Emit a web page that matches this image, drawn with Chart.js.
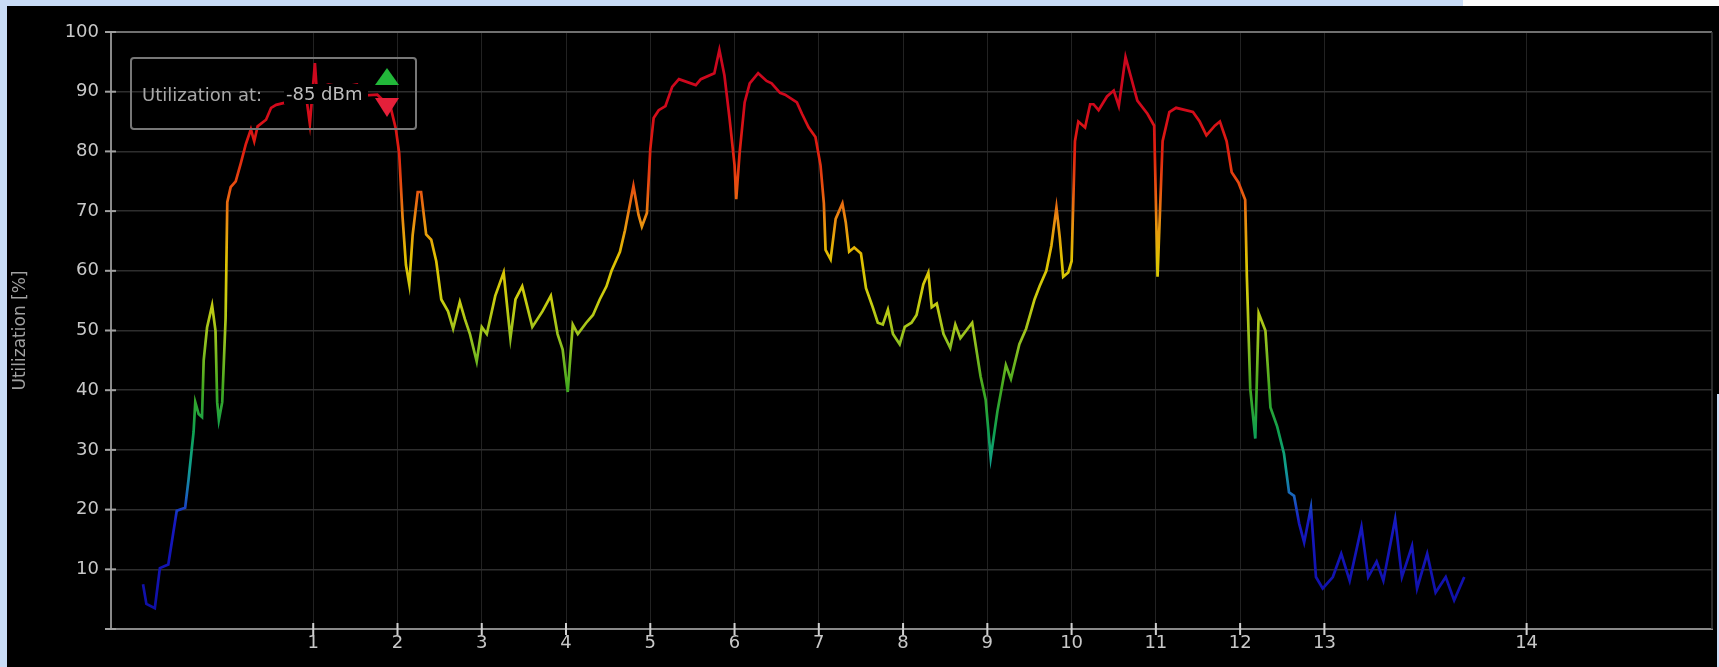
<!DOCTYPE html>
<html>
<head>
<meta charset="utf-8">
<title>Channel utilization</title>
<script src="https://cdn.jsdelivr.net/npm/chart.js@4.4.1/dist/chart.umd.min.js"></script>
<style>
  html, body { margin: 0; padding: 0; width: 1719px; height: 667px; overflow: hidden; background: #c9dcf6; }
  #topwhite { position: absolute; left: 1463px; top: 0; width: 256px; height: 6px; background: #fbfbfb; }
  #panel { position: absolute; left: 7px; top: 6px; width: 1712px; height: 661px; background: #000; }
  #edge { position: absolute; left: 1717px; top: 394px; width: 2px; height: 273px; background: #c9dcf6; }
  #legendBox { position: absolute; left: 130px; top: 57px; width: 283px; height: 69px;
               border: 2px solid #777; border-radius: 4px; pointer-events: none; }
  .ltext { position: absolute; font-family: "DejaVu Sans", sans-serif; font-size: 18px;
           line-height: 20px; height: 20px; white-space: nowrap; }
  #lblAt { left: 142px; top: 85px; color: #a8a8a8; }
  #lblDbm { left: 284px; top: 84px; width: 82px; padding-left: 2px; background: #000; color: #bdbdbd; }
  #up { position: absolute; left: 375px; top: 68px; width: 0; height: 0;
        border-left: 12px solid transparent; border-right: 12px solid transparent; border-bottom: 17px solid #22b83a; }
  #down { position: absolute; left: 375px; top: 98px; width: 0; height: 0;
          border-left: 12px solid transparent; border-right: 12px solid transparent; border-top: 19px solid #e4203a; }
</style>
</head>
<body>
<div id="topwhite"></div>
<div id="panel"><canvas id="chart"></canvas></div>
<div id="edge"></div>
<div id="legendBox"></div>
<div class="ltext" id="lblAt">Utilization at:</div>
<div class="ltext" id="lblDbm">-85 dBm</div>
<div id="up"></div>
<div id="down"></div>

<script>
// 2.4 GHz Wi-Fi channels: centre frequency (MHz) and the label shown on the axis
const channelFreqs  = [2412, 2417, 2422, 2427, 2432, 2437, 2442, 2447, 2452, 2457, 2462, 2467, 2472, 2484];
const channelLabels = ['1', '2', '3', '4', '5', '6', '7', '8', '9', '10', '11', '12', '13', '14'];

// Sweep frequencies (MHz)
const freqMHz = [
  2401.9, 2402.1, 2402.6, 2402.9, 2403.4, 2403.9, 2404.4, 2404.6, 2404.9, 2405.0,
  2405.2, 2405.4, 2405.5, 2405.7, 2406.0, 2406.2, 2406.3, 2406.4, 2406.6, 2406.8,
  2406.9, 2407.1, 2407.4, 2407.7, 2408.0, 2408.3, 2408.5, 2408.7, 2409.2, 2409.5,
  2409.8, 2410.4, 2410.8, 2411.3, 2411.6, 2411.8, 2412.1, 2412.2, 2412.9, 2413.8,
  2414.6, 2415.1, 2415.8, 2416.6, 2416.9, 2417.1, 2417.3, 2417.5, 2417.7, 2417.9,
  2418.2, 2418.4, 2418.7, 2419.0, 2419.3, 2419.6, 2420.0, 2420.3, 2420.7, 2421.0,
  2421.3, 2421.7, 2422.0, 2422.3, 2422.8, 2423.3, 2423.7, 2424.0, 2424.4, 2425.0,
  2425.6, 2426.1, 2426.5, 2426.8, 2427.1, 2427.4, 2427.7, 2428.2, 2428.6, 2429.0,
  2429.4, 2429.7, 2430.2, 2430.5, 2431.0, 2431.3, 2431.5, 2431.8, 2432.0, 2432.2,
  2432.5, 2432.9, 2433.3, 2433.7, 2434.7, 2435.0, 2435.8, 2436.1, 2436.4, 2436.7,
  2437.0, 2437.1, 2437.3, 2437.6, 2437.9, 2438.4, 2438.9, 2439.2, 2439.7, 2440.0,
  2440.7, 2441.0, 2441.4, 2441.8, 2442.1, 2442.3, 2442.4, 2442.7, 2443.0, 2443.4,
  2443.6, 2443.8, 2444.1, 2444.5, 2444.8, 2445.2, 2445.5, 2445.8, 2446.1, 2446.4,
  2446.8, 2447.1, 2447.5, 2447.8, 2448.2, 2448.5, 2448.7, 2449.0, 2449.4, 2449.8,
  2450.1, 2450.4, 2451.1, 2451.6, 2451.9, 2452.2, 2452.6, 2453.1, 2453.4, 2453.9,
  2454.3, 2454.8, 2455.1, 2455.5, 2455.8, 2456.1, 2456.3, 2456.5, 2456.8, 2457.0,
  2457.2, 2457.4, 2457.8, 2458.1, 2458.3, 2458.6, 2459.1, 2459.5, 2459.8, 2460.2,
  2460.5, 2460.9, 2461.5, 2461.9, 2462.1, 2462.4, 2462.8, 2463.2, 2464.2, 2464.6,
  2465.0, 2465.5, 2465.8, 2466.2, 2466.5, 2466.9, 2467.3, 2467.4, 2467.6, 2467.9,
  2468.1, 2468.5, 2468.8, 2469.2, 2469.6, 2469.9, 2470.2, 2470.5, 2470.8, 2471.2,
  2471.5, 2471.9, 2472.5, 2473.0, 2473.5, 2474.2, 2474.6, 2475.1, 2475.5, 2476.2,
  2476.6, 2477.2, 2477.5, 2478.1, 2478.6, 2479.2, 2479.7, 2480.3
];

// Channel utilization (%) at each sweep frequency
const utilization = [
   7.5,  4.2,  3.5, 10.2, 10.8, 19.8, 20.3, 25.0, 33.0, 38.0,
  36.0, 35.5, 45.0, 50.5, 54.2, 50.0, 38.0, 35.0, 38.0, 52.0,
  71.5, 74.0, 75.0, 78.0, 81.2, 83.7, 81.7, 84.2, 85.3, 87.3,
  87.8, 88.2, 88.2, 89.4, 88.8, 84.6, 94.8, 90.6, 91.2, 90.8,
  91.2, 89.4, 89.5, 87.3, 83.8, 79.7, 69.0, 61.0, 57.7, 66.0,
  73.2, 73.2, 66.1, 65.2, 61.6, 55.2, 53.2, 50.3, 54.8, 51.9,
  49.4, 44.8, 50.6, 49.4, 55.8, 59.7, 48.7, 55.2, 57.4, 50.6,
  53.2, 55.8, 49.4, 46.8, 39.7, 51.0, 49.4, 51.3, 52.6, 55.2,
  57.4, 60.0, 63.2, 66.8, 74.2, 69.4, 67.4, 69.7, 80.4, 85.6,
  86.9, 87.6, 90.8, 92.1, 91.1, 92.1, 93.1, 97.0, 92.7, 85.6,
  77.7, 72.0, 79.7, 88.2, 91.4, 93.1, 91.8, 91.4, 89.8, 89.5,
  88.2, 86.3, 84.0, 82.4, 77.7, 71.3, 63.5, 61.9, 68.7, 71.3,
  68.1, 63.2, 63.9, 62.9, 57.1, 53.9, 51.3, 51.0, 53.5, 49.4,
  47.7, 50.6, 51.3, 52.6, 57.7, 59.7, 53.9, 54.5, 49.4, 47.1,
  51.0, 48.7, 51.3, 42.3, 38.4, 28.7, 36.5, 44.2, 41.9, 47.7,
  50.3, 55.2, 57.4, 60.0, 64.2, 70.6, 65.5, 59.0, 59.7, 61.6,
  81.7, 85.0, 84.0, 87.9, 87.9, 86.9, 89.2, 90.2, 87.6, 95.8,
  92.7, 88.5, 86.3, 84.3, 59.0, 81.7, 86.6, 87.3, 86.6, 85.0,
  82.7, 84.3, 85.0, 81.7, 76.5, 74.8, 71.9, 59.0, 40.3, 31.9,
  52.9, 50.0, 37.1, 33.9, 29.4, 22.9, 22.3, 17.7, 14.5, 20.3,
   8.7,  6.8,  8.7, 12.6,  8.1, 17.1,  8.7, 11.3,  8.1, 18.4,
   8.7, 13.9,  6.8, 12.6,  6.1,  8.7,  4.8,  8.7
];

// Colour ramp for the trace, keyed by utilization value
const rampValues = [0, 18, 22, 27, 33, 40, 48, 55, 62, 68, 74, 80, 88, 100];
const rampColors = ['#0e0ea0', '#1618c0', '#1a60c0', '#10a090', '#10a050', '#40a820', '#90c020',
                    '#c8cc10', '#e0c000', '#e89010', '#e85010', '#e02010', '#d0081c', '#c80820'];

const FONT = '"DejaVu Sans", sans-serif';

function traceGradient(ctx) {
  const chart = ctx.chart;
  const area = chart.chartArea;
  if (!area) return '#d0081c';
  const y = chart.scales.y;
  const g = chart.ctx.createLinearGradient(0, y.getPixelForValue(0), 0, y.getPixelForValue(100));
  rampValues.forEach((v, i) => g.addColorStop(v / 100, rampColors[i]));
  return g;
}

// Short tick marks crossing both axes, plus the right-hand frame line
const axisMarks = {
  id: 'axisMarks',
  afterDraw(chart) {
    const { ctx, chartArea: a, scales } = chart;
    ctx.save();
    ctx.strokeStyle = '#3a3a3a';
    ctx.lineWidth = 1.5;
    ctx.beginPath();
    ctx.moveTo(a.right, a.top);
    ctx.lineTo(a.right, a.bottom);
    ctx.stroke();

    ctx.strokeStyle = '#d0d0d0';
    ctx.lineWidth = 2;
    scales.x.ticks.forEach(t => {
      const px = scales.x.getPixelForValue(t.value);
      ctx.beginPath();
      ctx.moveTo(px, a.bottom - 6);
      ctx.lineTo(px, a.bottom + 6);
      ctx.stroke();
    });
    ctx.strokeStyle = '#a0a0a0';
    scales.y.ticks.forEach(t => {
      const py = scales.y.getPixelForValue(t.value);
      ctx.beginPath();
      ctx.moveTo(a.left - 6, py);
      ctx.lineTo(a.left + 5, py);
      ctx.stroke();
    });
    ctx.restore();
  }
};

new Chart(document.getElementById('chart'), {
  type: 'line',
  data: {
    datasets: [{
      label: 'Utilization',
      data: freqMHz.map((f, i) => ({ x: f, y: utilization[i] })),
      borderColor: traceGradient,
      borderWidth: 2.7,
      pointRadius: 0,
      tension: 0,
      fill: false
    }]
  },
  options: {
    responsive: true,
    maintainAspectRatio: false,
    animation: false,
    events: [],
    layout: { padding: { top: 26, right: 7, left: 0, bottom: 0 } },
    plugins: { legend: { display: false }, tooltip: { enabled: false } },
    scales: {
      x: {
        type: 'linear',
        min: 2400,
        max: 2495,
        afterBuildTicks(scale) { scale.ticks = channelFreqs.map(v => ({ value: v })); },
        afterFit(scale) { scale.height = 38; },
        ticks: {
          autoSkip: false,
          maxRotation: 0,
          padding: 4,
          color: '#c8c8c8',
          font: { family: FONT, size: 18 },
          callback: v => channelLabels[channelFreqs.indexOf(v)]
        },
        grid: { color: '#222222', lineWidth: 1, drawTicks: false },
        border: { display: true, color: '#8a8a8a', width: 2 }
      },
      y: {
        min: 0,
        max: 100,
        afterFit(scale) { scale.width = 104; },
        ticks: {
          stepSize: 10,
          padding: 12,
          color: '#c8c8c8',
          font: { family: FONT, size: 18 },
          callback: v => (v === 0 ? '' : v)
        },
        grid: {
          drawTicks: false,
          color: c => (c.tick.value === 100 ? '#707070' : c.tick.value === 0 ? 'rgba(0,0,0,0)' : '#2e2e2e'),
          lineWidth: c => (c.tick.value === 100 ? 2 : 1.5)
        },
        border: { display: true, color: '#8a8a8a', width: 2 },
        title: {
          display: true,
          text: 'Utilization [%]',
          color: '#a0a0a0',
          font: { family: FONT, size: 17 },
          padding: { top: 3, bottom: 0 }
        }
      }
    }
  },
  plugins: [axisMarks]
});
</script>
</body>
</html>
